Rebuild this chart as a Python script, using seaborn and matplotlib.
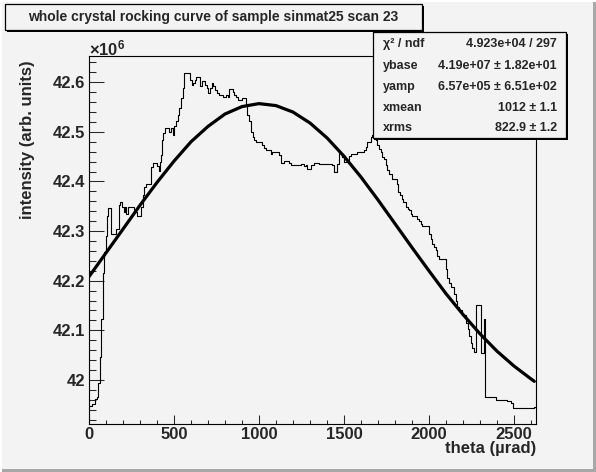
import numpy as np
import pandas as pd
import matplotlib
matplotlib.use("Agg")
import matplotlib.pyplot as plt
from matplotlib.patches import Rectangle
import seaborn as sns

# ---------------- data (intensity in units of 1e6) ----------------
theta_steps = [0, 16, 35, 48, 55, 63, 72, 81, 90, 100, 108, 113, 127, 161, 174, 185, 194, 205,
               213, 220, 229, 266, 283, 305, 316, 326, 335, 366, 375, 400, 409, 415, 424, 431,
               438, 450, 473, 483, 493, 503, 512, 521, 531, 541, 551, 561, 597, 605, 614, 623,
               632, 653, 662, 682, 692, 702, 712, 722, 732, 742, 756, 767, 786, 806, 815, 825,
               845, 855, 864, 874, 903, 922, 932, 942, 952, 962, 972, 981, 1020, 1030, 1040,
               1070, 1079, 1119, 1128, 1148, 1177, 1187, 1246, 1265, 1275, 1285, 1305, 1324,
               1354, 1432, 1442, 1462, 1471, 1481, 1491, 1501, 1520, 1530, 1540, 1579, 1619,
               1628, 1638, 1658, 1667, 1677, 1687, 1697, 1707, 1716, 1726, 1736, 1746, 1756,
               1766, 1785, 1812, 1820, 1831, 1840, 1850, 1864, 1874, 1884, 1893, 1903, 1932,
               1942, 1952, 1962, 2001, 2011, 2021, 2030, 2040, 2050, 2060, 2099, 2109, 2119,
               2129, 2148, 2158, 2168, 2178, 2197, 2217, 2227, 2236, 2246, 2256, 2266, 2277,
               2308, 2322, 2328, 2393, 2462, 2481, 2492, 2620]
intensity = [41.947, 41.952, 41.962, 41.966, 41.993, 42.047, 42.122, 42.216, 42.257, 42.291,
             42.331, 42.346, 42.294, 42.304, 42.352, 42.358, 42.348, 42.338, 42.348, 42.335,
             42.348, 42.338, 42.331, 42.348, 42.372, 42.388, 42.395, 42.429, 42.437, 42.432,
             42.422, 42.439, 42.453, 42.483, 42.497, 42.507, 42.500, 42.507, 42.494, 42.511,
             42.521, 42.534, 42.548, 42.568, 42.588, 42.619, 42.605, 42.595, 42.599, 42.605,
             42.611, 42.592, 42.602, 42.595, 42.588, 42.578, 42.588, 42.599, 42.592, 42.585,
             42.578, 42.575, 42.571, 42.575, 42.571, 42.586, 42.580, 42.575, 42.571, 42.565,
             42.568, 42.554, 42.534, 42.521, 42.500, 42.490, 42.483, 42.479, 42.473, 42.468,
             42.464, 42.456, 42.460, 42.453, 42.438, 42.442, 42.438, 42.433, 42.435, 42.431,
             42.434, 42.425, 42.433, 42.438, 42.435, 42.433, 42.420, 42.436, 42.460, 42.455,
             42.450, 42.440, 42.443, 42.451, 42.455, 42.459, 42.463, 42.470, 42.479, 42.490,
             42.493, 42.486, 42.483, 42.474, 42.466, 42.460, 42.450, 42.446, 42.433, 42.423,
             42.415, 42.404, 42.395, 42.379, 42.372, 42.365, 42.358, 42.348, 42.345, 42.342,
             42.335, 42.331, 42.325, 42.321, 42.314, 42.310, 42.294, 42.284, 42.274, 42.267,
             42.261, 42.250, 42.244, 42.223, 42.206, 42.196, 42.188, 42.173, 42.159, 42.146,
             42.141, 42.130, 42.115, 42.102, 42.088, 42.075, 42.065, 42.056, 42.150, 42.055,
             42.123, 41.965, 41.960, 41.957, 41.953, 41.943, 41.946]
theta_end = 2630

fit_theta = [0, 100, 200, 300, 400, 500, 600, 700, 800, 900, 1000, 1100, 1200, 1300, 1400,
             1500, 1600, 1700, 1800, 1900, 2000, 2100, 2200, 2300, 2400, 2500, 2600, 2620]
fit_values = [42.208, 42.256, 42.304, 42.352, 42.398, 42.441, 42.480, 42.511, 42.536, 42.551,
              42.557, 42.553, 42.540, 42.518, 42.488, 42.451, 42.409, 42.363, 42.315, 42.267,
              42.220, 42.174, 42.132, 42.093, 42.058, 42.028, 42.002, 41.997]

title_text = "whole crystal rocking curve of sample sinmat25 scan 23"
stat_names = ["χ² / ndf", "ybase", "yamp", "xmean", "xrms"]
stat_values = ["4.923e+04 / 297", "4.19e+07 ± 1.82e+01", "6.57e+05 ± 6.51e+02",
               "1012 ± 1.1", "822.9 ± 1.2"]
x_ticks = [0, 500, 1000, 1500, 2000, 2500]
y_ticks = [42.0, 42.1, 42.2, 42.3, 42.4, 42.5, 42.6]
y_tick_labels = ["42", "42.1", "42.2", "42.3", "42.4", "42.5", "42.6"]

# ---------------- style ----------------
W, H = 596, 472
BG = "#f3f3f3"
sns.set_style("ticks")
plt.rcParams["font.family"] = ["Liberation Sans", "DejaVu Sans"]
plt.rcParams["font.weight"] = "bold"
plt.rcParams["mathtext.fontset"] = "custom"
plt.rcParams["mathtext.rm"] = "Liberation Sans"
plt.rcParams["mathtext.bf"] = "Liberation Sans:bold"
plt.rcParams["mathtext.it"] = "Liberation Sans:italic"

fig = plt.figure(figsize=(W / 100, H / 100), dpi=100, facecolor=BG)

def fx(px):
    return px / W

def fy(py):
    return 1 - py / H

ax_l, ax_r, ax_t, ax_b = 89, 536, 56, 424
ax = fig.add_axes([fx(ax_l), fy(ax_b), fx(ax_r - ax_l), (ax_b - ax_t) / H])
ax.set_facecolor(BG)

hist_df = pd.DataFrame({"theta": theta_steps + [theta_end],
                        "intensity": intensity + [intensity[-1]]})
fit_df = pd.DataFrame({"theta": fit_theta, "fit": fit_values})

sns.lineplot(data=hist_df, x="theta", y="intensity", ax=ax, color="black",
             linewidth=0.8, drawstyle="steps-post", estimator=None, sort=False)
sns.lineplot(data=fit_df, x="theta", y="fit", ax=ax, color="black",
             linewidth=2.3, estimator=None, sort=False)

ax.set_xlim(0, theta_end)
ax.set_ylim(41.911, 42.653)
ax.set_xticks(x_ticks)
ax.set_xticklabels([str(v) for v in x_ticks])
ax.set_yticks(y_ticks)
ax.set_yticklabels(y_tick_labels)
ax.set_xticks(np.arange(0, theta_end, 100), minor=True)
ax.set_yticks(np.arange(41.92, 42.66, 0.02), minor=True)
ax.set_xlabel("")
ax.set_ylabel("")
for s in ax.spines.values():
    s.set_visible(True)
    s.set_linewidth(0.8)
    s.set_color("black")
ax.tick_params(axis="x", which="major", direction="in", length=6.8, width=0.75,
               pad=2.5, labelsize=12, top=False)
ax.tick_params(axis="x", which="minor", direction="in", length=3.2, width=0.75, top=False)
ax.tick_params(axis="y", which="major", direction="in", length=10.6, width=0.75,
               pad=2.5, labelsize=12, right=False)
ax.tick_params(axis="y", which="minor", direction="in", length=5.3, width=0.75, right=False)
for lab in ax.get_xticklabels() + ax.get_yticklabels():
    lab.set_fontweight("bold")

# axis labels
fig.text(fx(ax_r), fy(449), "theta (µrad)", ha="right", va="center",
         fontsize=12, fontweight="bold")
fig.text(fx(28), fy(60), "intensity (arb. units)", ha="center", va="top",
         rotation=90, fontsize=12, fontweight="bold")
fig.text(fx(89), fy(55), r"$\times\mathbf{10}^{\mathbf{6}}$", ha="left", va="baseline",
         fontsize=12)

# boxes
def box(x0, y0, x1, y1, shadow=2):
    fig.add_artist(Rectangle((fx(x0 + shadow), fy(y1 + shadow)), fx(x1 - x0), (y1 - y0) / H,
                             transform=fig.transFigure, facecolor="black",
                             edgecolor="black", linewidth=0, zorder=5))
    fig.add_artist(Rectangle((fx(x0), fy(y1)), fx(x1 - x0), (y1 - y0) / H,
                             transform=fig.transFigure, facecolor=BG,
                             edgecolor="black", linewidth=0.9, zorder=6))

box(5, 4, 422, 30)
fig.text(fx(28), fy(17), title_text, ha="left", va="center", fontsize=10,
         fontweight="bold", zorder=7)

box(373, 32, 566, 138)
row_y = [44, 66, 87, 108, 128]
for name, val, yy in zip(stat_names, stat_values, row_y):
    fig.text(fx(383), fy(yy), name, ha="left", va="center", fontsize=9,
             fontweight="bold", zorder=7)
    fig.text(fx(557), fy(yy), val, ha="right", va="center", fontsize=9,
             fontweight="bold", zorder=7)

# canvas bevel
fig.add_artist(Rectangle((0, 0), 1, 3 / H, transform=fig.transFigure,
                         facecolor="#a8a8a8", edgecolor="none", zorder=8))
fig.add_artist(Rectangle((1 - 3 / W, 0), 3 / W, 1, transform=fig.transFigure,
                         facecolor="#a8a8a8", edgecolor="none", zorder=8))
fig.add_artist(Rectangle((0, 1 - 2 / H), 1, 2 / H, transform=fig.transFigure,
                         facecolor="white", edgecolor="none", zorder=8))
fig.add_artist(Rectangle((0, 0), 2 / W, 1, transform=fig.transFigure,
                         facecolor="white", edgecolor="none", zorder=8))

fig.savefig("out.png", dpi=100, facecolor=BG)
